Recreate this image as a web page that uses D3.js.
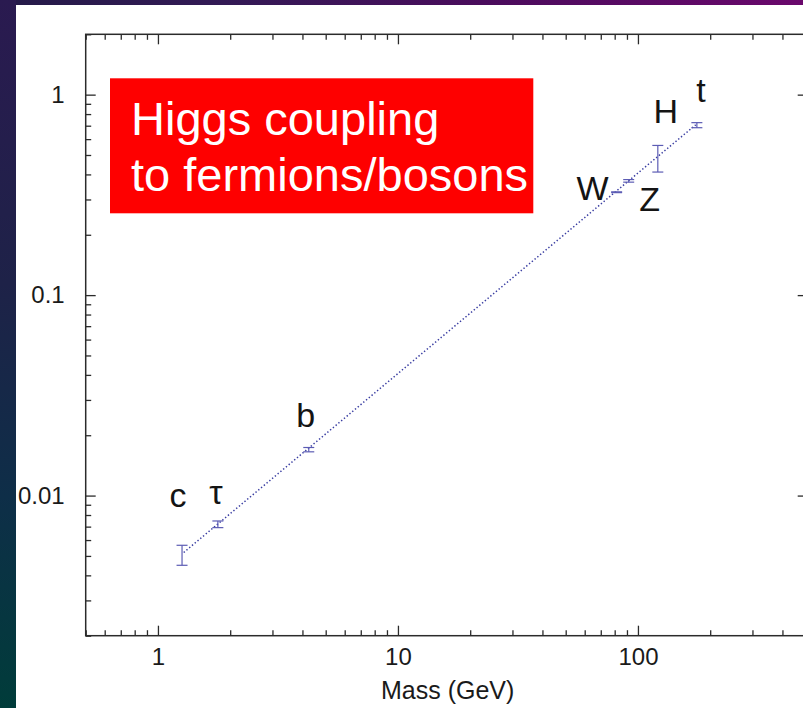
<!DOCTYPE html>
<html>
<head>
<meta charset="utf-8">
<script src="https://cdn.jsdelivr.net/npm/d3@7"></script>
<style>
  html, body { margin: 0; padding: 0; background: #fff; }
  svg { display: block; }
  text { font-family: "Liberation Sans", Arial, Helvetica, sans-serif; }
</style>
</head>
<body>
<svg id="chart" width="803" height="708"></svg>
<script>
// Particles, their masses (GeV) and measured Higgs couplings with error bounds
const particles    = ["c", "τ", "b", "W", "Z", "H", "t"];
const masses       = [1.26, 1.777, 4.25, 81.5, 91.5, 121, 176];
const couplings    = [0.00505, 0.0072, 0.0169, 0.326, 0.372, 0.479, 0.704];
const couplingLow  = [0.00449, 0.00692, 0.01653, 0.3245, 0.366, 0.411, 0.684];
const couplingHigh = [0.00565, 0.00747, 0.01737, 0.3275, 0.377, 0.558, 0.725];

// Expected scaling (coupling proportional to mass): end points of the guide line
const lineMass     = [1.28, 174];
const lineCoupling = [0.0052, 0.707];

// Labelled ticks
const xTickValues = [1, 10, 100];
const yTickValues = [0.01, 0.1, 1];

// Label placement relative to each particle's point (dx, dy in px)
const labelOffsets = [[-4, -48], [-2, -20], [-3, -23], [-24, 8], [21, 30], [8, -36], [4, -23]];

const svg = d3.select("#chart");
const W = 803, H = 708;

// ---- slide backdrop ----
const defs = svg.append("defs");
const gTop = defs.append("linearGradient").attr("id", "bgTop").attr("x1", 0).attr("x2", 1).attr("y1", 0).attr("y2", 0);
gTop.append("stop").attr("offset", "0%").attr("stop-color", "#241a48");
gTop.append("stop").attr("offset", "28%").attr("stop-color", "#331a55");
gTop.append("stop").attr("offset", "60%").attr("stop-color", "#4a0c5c");
gTop.append("stop").attr("offset", "100%").attr("stop-color", "#6a086c");
const gLeft = defs.append("linearGradient").attr("id", "bgLeft").attr("x1", 0).attr("x2", 0).attr("y1", 0).attr("y2", 1);
gLeft.append("stop").attr("offset", "0%").attr("stop-color", "#2a1a50");
gLeft.append("stop").attr("offset", "40%").attr("stop-color", "#1e2248");
gLeft.append("stop").attr("offset", "70%").attr("stop-color", "#0e2e48");
gLeft.append("stop").attr("offset", "100%").attr("stop-color", "#003c3a");

svg.append("rect").attr("x", 0).attr("y", 0).attr("width", W).attr("height", 5).attr("fill", "url(#bgTop)");
svg.append("rect").attr("x", 0).attr("y", 0).attr("width", 16).attr("height", H).attr("fill", "url(#bgLeft)");
svg.append("rect").attr("x", 16).attr("y", 5).attr("width", W - 16).attr("height", H - 5).attr("fill", "#fff");

// ---- scales ----
const plot = { left: 85.7, right: 805.7, top: 34.3, bottom: 635.7 };
const x = d3.scaleLog().domain([0.5, 500]).range([plot.left, plot.right]);
const y = d3.scaleLog().domain([0.002, 2]).range([plot.bottom, plot.top]);

const axisColor = "#2b2b2b";
const fmt = d => String(d);

function styleAxis(g) {
  g.select(".domain").remove();
  g.selectAll(".tick line").attr("stroke", axisColor).attr("stroke-width", 1.3);
  g.selectAll(".tick text").attr("fill", "#1a1a1a").attr("font-size", 24)
    .attr("font-family", "'Liberation Sans', Arial, sans-serif");
}

// minor ticks (all decade subdivisions), inward
const xMinor = x.ticks().filter(v => !xTickValues.includes(v));
const yMinor = y.ticks().filter(v => !yTickValues.includes(v));

// bottom
svg.append("g").attr("transform", `translate(0,${plot.bottom})`)
  .call(d3.axisBottom(x).tickValues(xMinor).tickSize(-5.5).tickFormat(""))
  .call(styleAxis);
svg.append("g").attr("transform", `translate(0,${plot.bottom})`)
  .call(d3.axisBottom(x).tickValues(xTickValues).tickSize(-10).tickPadding(12.5).tickFormat(fmt))
  .call(styleAxis);
// top
svg.append("g").attr("transform", `translate(0,${plot.top})`)
  .call(d3.axisTop(x).tickValues(xMinor).tickSize(-5.5).tickFormat(""))
  .call(styleAxis);
svg.append("g").attr("transform", `translate(0,${plot.top})`)
  .call(d3.axisTop(x).tickValues(xTickValues).tickSize(-10).tickFormat(""))
  .call(styleAxis);
// left
svg.append("g").attr("transform", `translate(${plot.left},0)`)
  .call(d3.axisLeft(y).tickValues(yMinor).tickSize(-5.5).tickFormat(""))
  .call(styleAxis);
svg.append("g").attr("transform", `translate(${plot.left},0)`)
  .call(d3.axisLeft(y).tickValues(yTickValues).tickSize(-10).tickPadding(21).tickFormat(fmt))
  .call(styleAxis);
// right (major only)
svg.append("g").attr("transform", `translate(${plot.right},0)`)
  .call(d3.axisRight(y).tickValues(yTickValues).tickSize(-8).tickFormat(""))
  .call(styleAxis);

// frame
svg.append("rect")
  .attr("x", plot.left).attr("y", plot.top)
  .attr("width", plot.right - plot.left).attr("height", plot.bottom - plot.top)
  .attr("fill", "none").attr("stroke", axisColor).attr("stroke-width", 1.5);

// axis title
svg.append("text")
  .attr("x", (plot.left + plot.right) / 2 + 2).attr("y", 699)
  .attr("text-anchor", "middle").attr("font-size", 25).attr("fill", "#1a1a1a")
  .text("Mass (GeV)");

// ---- guide line ----
const lineData = lineMass.map((m, i) => [m, lineCoupling[i]]);
svg.append("path")
  .datum(lineData)
  .attr("d", d3.line().x(d => x(d[0])).y(d => y(d[1])))
  .attr("fill", "none").attr("stroke", "#3a3ea2").attr("stroke-width", 1.5)
  .attr("stroke-dasharray", "1.4,2.2");

// ---- error bars ----
const pts = particles.map((p, i) => ({
  name: p, m: masses[i], v: couplings[i], lo: couplingLow[i], hi: couplingHigh[i], off: labelOffsets[i]
}));
const barColor = "#5c5cb4";
const cap = 5.5;
const bars = svg.append("g").attr("stroke", barColor).attr("stroke-width", 1.2).attr("fill", "none");
pts.forEach(d => {
  const cx = x(d.m);
  bars.append("line").attr("x1", cx).attr("x2", cx).attr("y1", y(d.lo)).attr("y2", y(d.hi));
  bars.append("line").attr("x1", cx - cap).attr("x2", cx + cap).attr("y1", y(d.lo)).attr("y2", y(d.lo));
  bars.append("line").attr("x1", cx - cap).attr("x2", cx + cap).attr("y1", y(d.hi)).attr("y2", y(d.hi));
});

// ---- particle labels ----
svg.append("g").selectAll("text").data(pts).join("text")
  .attr("x", d => x(d.m) + d.off[0])
  .attr("y", d => y(d.v) + d.off[1])
  .attr("text-anchor", "middle").attr("font-size", 34).attr("fill", "#141414")
  .text(d => d.name);

// ---- title box ----
svg.append("rect").attr("x", 110).attr("y", 78.3).attr("width", 423.3).attr("height", 135)
  .attr("fill", "#fe0000");
svg.append("text").attr("x", 131).attr("y", 135).attr("font-size", 47).attr("fill", "#fff")
  .text("Higgs coupling");
svg.append("text").attr("x", 131).attr("y", 190.7).attr("font-size", 47).attr("fill", "#fff")
  .text("to fermions/bosons");
</script>
</body>
</html>
